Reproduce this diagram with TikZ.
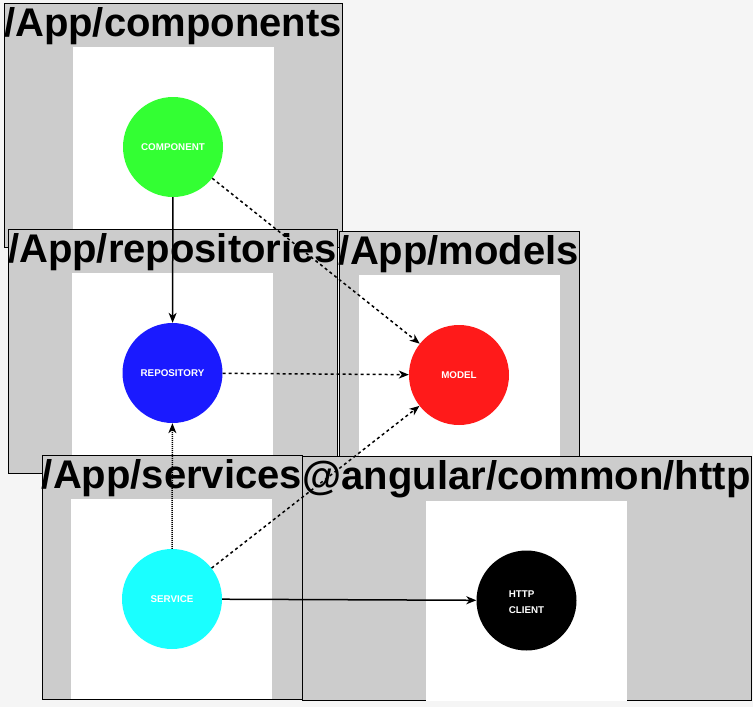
\documentclass[tikz,border=0pt]{standalone}
\usepackage{fontspec}
\setmainfont{Liberation Sans}
\usetikzlibrary{arrows.meta}
\definecolor{bg}{HTML}{F5F5F5}
\definecolor{panelgrey}{HTML}{CCCCCC}
\definecolor{cgreen}{HTML}{33FF33}
\definecolor{cblue}{HTML}{1A1AFF}
\definecolor{cred}{HTML}{FF1A1A}
\definecolor{ccyan}{HTML}{1AFFFF}
\tikzset{
  panel/.style={draw=black, line width=1pt, fill=panelgrey, rectangle, inner sep=0pt},
  inner/.style={fill=white, rectangle, inner sep=0pt, minimum width=201pt, minimum height=200pt},
  ptitle/.style={anchor=base, inner sep=0pt, font=\fontsize{40}{40}\selectfont\bfseries},
  ball/.style={circle, minimum size=100pt, inner sep=0pt, text=white, font=\fontsize{9.8}{16}\selectfont\bfseries},
  edge/.style={line width=1.5pt, -{Stealth[length=10pt,width=8pt,inset=3pt]}},
  dashedge/.style={edge, dash pattern=on 3pt off 3pt},
  dotedge/.style={edge, dash pattern=on 1pt off 1pt}
}
\begin{document}
\begin{tikzpicture}[x=1pt,y=-1pt]
\useasboundingbox (0,0) rectangle (753,707);
\fill[bg] (0,0) rectangle (753,707);
% components panel
\node[panel, minimum width=338pt, minimum height=244pt] (pcomp) at (173,125) {};
\node[inner] (icomp) at (173.5,147) {};
\node[ptitle] (tcomp) at (173,36) {/App/components};
\node[ball, fill=cgreen] (comp) at (173,147) {COMPONENT};
% repositories panel
\node[panel, minimum width=329pt, minimum height=244pt] (prep) at (172.5,351) {};
\node[inner] (irep) at (172.5,373) {};
\node[ptitle] (trep) at (172.5,262) {/App/repositories};
\node[ball, fill=cblue] (rep) at (172.5,373) {REPOSITORY};
% models panel
\node[panel, minimum width=240pt, minimum height=244pt] (pmod) at (459,353) {};
\node[inner] (imod) at (459.5,375) {};
\node[ptitle] (tmod) at (459,264) {/App/models};
\node[ball, fill=cred] (mod) at (459,375) {MODEL};
% services panel
\node[panel, minimum width=260pt, minimum height=244pt] (pserv) at (172,577) {};
\node[inner] (iserv) at (171.5,599) {};
\node[ptitle] (tserv) at (172,488) {/App/services};
\node[ball, fill=ccyan] (serv) at (172,599) {SERVICE};
% http panel
\node[panel, minimum width=449pt, minimum height=244pt] (phttp) at (526.5,578.5) {};
\node[inner] (ihttp) at (526.5,600.5) {};
\node[ptitle] (thttp) at (526.5,489.5) {@angular/common/http};
\node[ball, fill=black] (http) at (526.5,600.5) {};
\node[text=white, font=\fontsize{9.8}{16}\selectfont\bfseries, align=left, inner sep=0pt] (httptxt) at (526.5,602) {HTTP\\CLIENT};
% edges
\draw[edge] (comp) -- (rep);
\draw[dashedge] (comp) -- (mod);
\draw[dashedge] (rep) -- (mod);
\draw[dotedge] (serv) -- (rep);
\draw[dashedge] (serv) -- (mod);
\draw[edge] (serv) -- (http);
\end{tikzpicture}
\end{document}
